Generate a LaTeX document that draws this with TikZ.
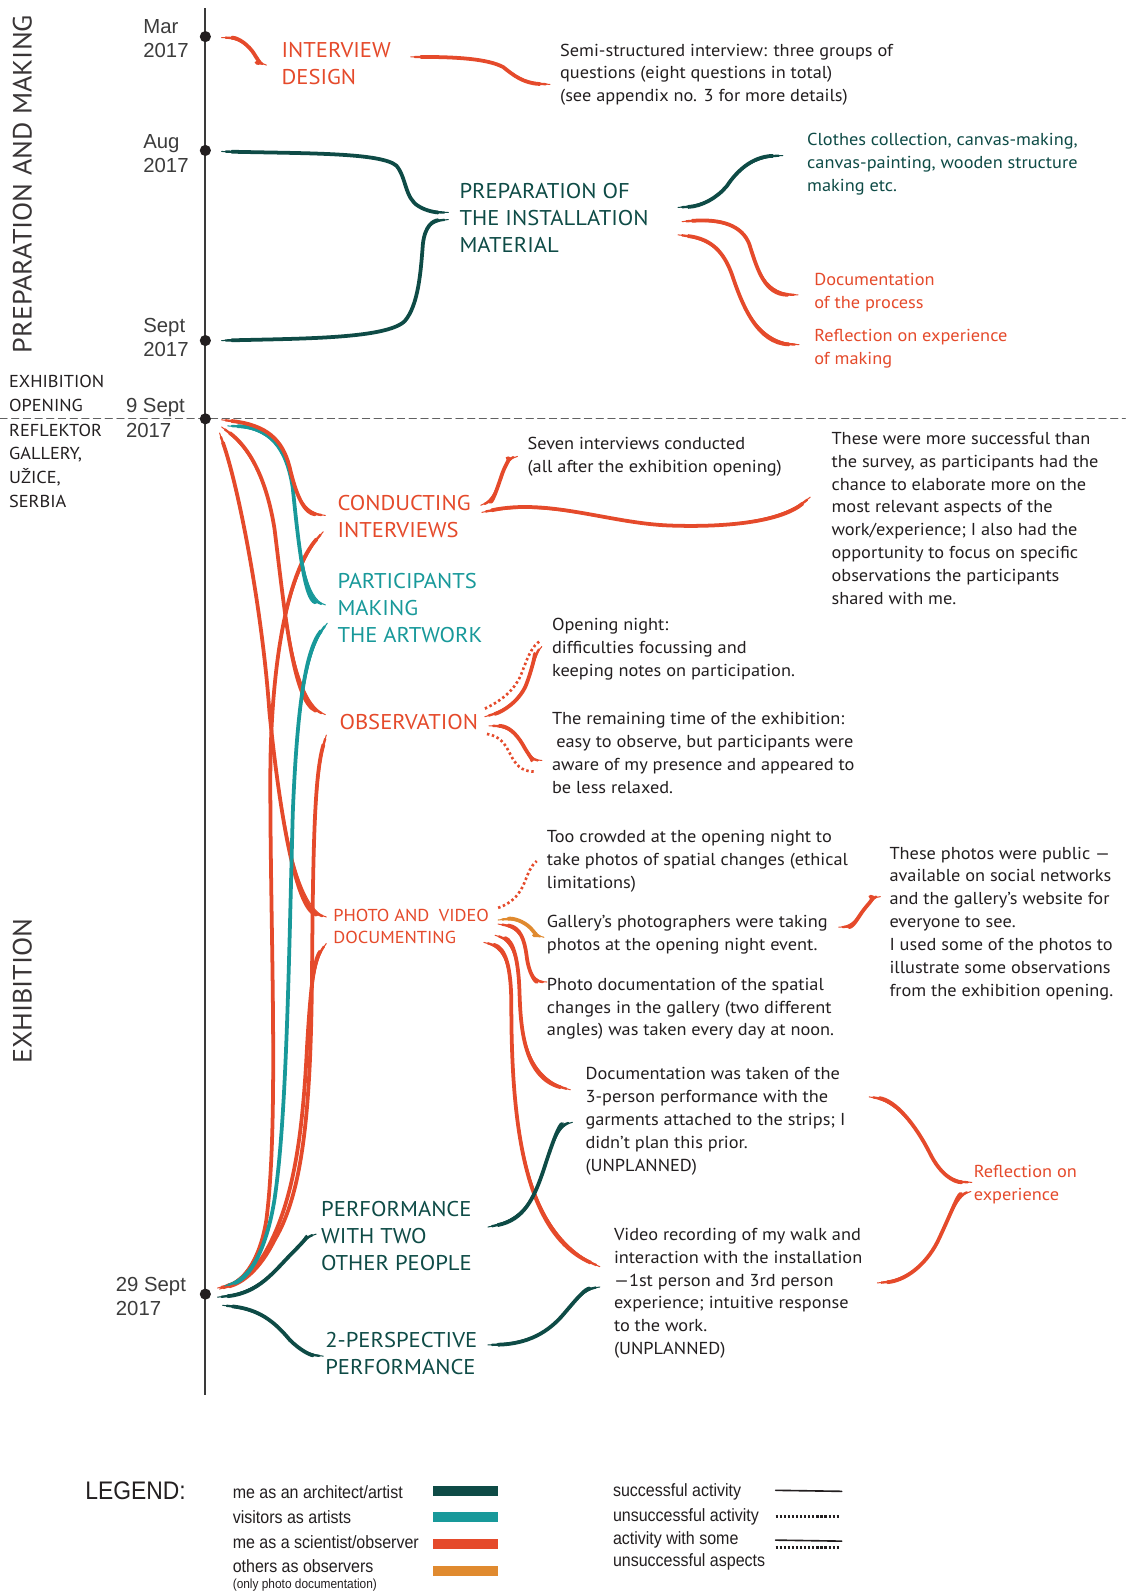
\documentclass[tikz,border=0pt]{standalone}
\usepackage{fontspec}
\setmainfont[FakeStretch=1.06]{PT Sans}
\newfontfamily\datefont{Liberation Sans}
\newfontfamily\legfont[FakeStretch=0.9]{Liberation Sans}

\definecolor{ink}{HTML}{231F20}
\definecolor{axisgray}{HTML}{3A3A3A}
\definecolor{dategray}{HTML}{3C3C3C}
\definecolor{archgreen}{HTML}{0E4B46}
\definecolor{visteal}{HTML}{18999A}
\definecolor{obsred}{HTML}{E54A2B}
\definecolor{othorange}{HTML}{E08A2F}

% tapered brush stroke: thin ends, thick middle
\newcommand\brush[2]{%
  \draw[#1,line width=1pt] #2;
  \draw[#1,line width=2.3pt,shorten <=4pt,shorten >=4pt] #2;
  \draw[#1,line width=3.7pt,shorten <=10pt,shorten >=10pt] #2;}

\tikzset{
  every node/.style={inner sep=0pt,outer sep=0pt},
  tdot/.style={circle,fill=ink,minimum size=11pt},
  axis/.style={draw=axisgray,line width=2pt,line cap=butt},
  divider/.style={draw=axisgray!80,line width=1.2pt,dash pattern=on 7pt off 4.5pt},
  body/.style={anchor=north west,align=left,text=ink,font=\fontsize{17}{22.5}\selectfont},
  stage/.style={anchor=north west,align=left,font=\fontsize{21}{26.5}\selectfont},
  datelbl/.style={anchor=north west,align=left,text=dategray,font=\datefont\fontsize{20}{24}\selectfont},
  place/.style={anchor=north west,align=left,text=ink,font=\fontsize{17}{23.3}\selectfont},
  phase/.style={rotate=90,text=ink!90,font=\fontsize{26}{30}\selectfont},
  dotline/.style={line width=2.6pt,dash pattern=on 2.4pt off 2.6pt,line cap=butt},
  legtext/.style={anchor=west,text=ink,font=\legfont\fontsize{17.5}{21}\selectfont},
  swatch/.style={minimum width=64pt,minimum height=10pt},
  legsolid/.style={draw=ink,line width=1.6pt},
  legdots/.style={draw=ink,line width=2.6pt,dash pattern=on 2.2pt off 1.8pt,line cap=butt},
}

\begin{document}
\begin{tikzpicture}[x=1pt,y=-1pt,line cap=round]
\useasboundingbox (0,0) rectangle (1107,1568);
\fill[white] (0,0) rectangle (1107,1568);

% ---------- timeline ----------
\coordinate (tTop) at (202,8);
\coordinate (tBot) at (202,1372);
\draw[axis] (tTop) -- (tBot);
\coordinate (dashL) at (0,412);
\coordinate (dashR) at (1107,412);
\draw[divider] (dashL) -- (dashR);
\node[tdot] (dMar)  at (202,36) {};
\node[tdot] (dAug)  at (202,148) {};
\node[tdot] (dSep)  at (202,335) {};
\node[tdot] (dOpen) at (202,412) {};
\node[tdot] (dEnd)  at (202,1273) {};

\node[datelbl] (lMar)  at (141,19)   {Mar\\2017};
\node[datelbl] (lAug)  at (141,132)  {Aug\\2017};
\node[datelbl] (lSep)  at (141,313)  {Sept\\2017};
\node[datelbl] (lOpen) at (124,392)  {9 Sept\\2017};
\node[datelbl] (lEnd)  at (114,1256) {29 Sept\\2017};

\node[phase] (phPrep) at (22,181) {PREPARATION AND MAKING};
\node[phase] (phExh)  at (22,975) {EXHIBITION};
\node[place] (opening) at (9,369) {EXHIBITION\\OPENING};
\node[place] (venue)   at (9,417) {REFLEKTOR\\GALLERY,\\UŽICE,\\SERBIA};

% ---------- preparation and making ----------
\node[stage,text=obsred] (intDesign) at (277,42) {INTERVIEW\\DESIGN};
\node[body] (semi) at (551,43) {Semi-structured interview: three groups of\\questions (eight questions in total)\\(see appendix no. 3 for more details)};
\node[stage,text=archgreen] (prep) at (452,180) {PREPARATION OF\\THE INSTALLATION\\MATERIAL};
\node[body,text=archgreen] (clothes) at (794,131) {Clothes collection, canvas-making,\\canvas-painting, wooden structure\\making etc.};
\node[body,text=obsred] (docProc) at (801,269) {Documentation\\of the process};
\node[body,text=obsred] (reflMake) at (801,324) {Reflection on experience\\of making};

\coordinate (idA) at (218,37);  \coordinate (idB) at (262,64);
\coordinate (idC) at (404,56);  \coordinate (idD) at (541,83);
\brush{obsred}{(idA) .. controls (235,37) and (245,45) .. (250,53) .. controls (254,60) and (258,63) .. (idB)}
\brush{obsred}{(idC) .. controls (450,56) and (480,58) .. (495,66) .. controls (505,74) and (515,82) .. (idD)}

\coordinate (prA) at (218,149); \coordinate (prB) at (441,209);
\coordinate (prC) at (218,335); \coordinate (prD) at (441,216);
\brush{archgreen}{(prA) .. controls (300,151) and (375,150) .. (390,163) .. controls (400,175) and (398,195) .. (412,203) .. controls (420,208) and (430,209) .. (prB)}
\brush{archgreen}{(prC) .. controls (300,333) and (380,333) .. (398,316) .. controls (412,300) and (414,265) .. (416,240) .. controls (418,222) and (426,217) .. (prD)}

\coordinate (prE) at (667,204); \coordinate (prF) at (770,153);
\coordinate (prG) at (671,218); \coordinate (prH) at (785,290);
\coordinate (prI) at (667,231); \coordinate (prJ) at (786,339);
\brush{archgreen}{(prE) .. controls (690,203) and (705,195) .. (715,183) .. controls (725,168) and (740,154) .. (prF)}
\brush{obsred}{(prG) .. controls (710,215) and (730,222) .. (737,240) .. controls (745,265) and (752,290) .. (prH)}
\brush{obsred}{(prI) .. controls (700,235) and (712,248) .. (720,270) .. controls (730,300) and (745,338) .. (prJ)}

% ---------- exhibition ----------
\node[stage,text=obsred] (conduct) at (332,487) {CONDUCTING\\INTERVIEWS};
\node[stage,text=visteal] (partic) at (332,564) {PARTICIPANTS\\MAKING\\THE ARTWORK};
\node[stage,text=obsred] (observ) at (334,703) {OBSERVATION};
\node[anchor=north west,align=left,text=obsred,font=\fontsize{17}{22}\selectfont] (photo) at (328,894) {PHOTO AND\hspace{0.55em}VIDEO\\DOCUMENTING};
\node[stage,text=archgreen] (perfTwo) at (316,1182) {PERFORMANCE\\WITH TWO\\OTHER PEOPLE};
\node[stage,text=archgreen] (perfPersp) at (320,1311) {2-PERSPECTIVE\\PERFORMANCE};

\node[body] (seven) at (519,430) {Seven interviews conducted\\(all after the exhibition opening)};
\node[body] (survey) at (818,425) {These were more successful than\\the survey, as participants had the\\chance to elaborate more on the\\most relevant aspects of the\\work/experience; I also had the\\opportunity to focus on specific\\observations the participants\\shared with me.};
\node[body] (openNight) at (543,608) {Opening night:\\difficulties focussing and\\keeping notes on participation.};
\node[body] (remain) at (543,701) {The remaining time of the exhibition:\\\hspace{0.25em}easy to observe, but participants were\\aware of my presence and appeared to\\be less relaxed.};
\node[body] (crowded) at (538,817) {Too crowded at the opening night to\\take photos of spatial changes (ethical\\limitations)};
\node[body] (gallery) at (538,900) {Gallery’s photographers were taking\\photos at the opening night event.};
\node[body] (noon) at (538,962) {Photo documentation of the spatial\\changes in the gallery (two different\\angles) was taken every day at noon.};
\node[body] (threeP) at (576,1050) {Documentation was taken of the\\3-person performance with the\\garments attached to the strips; I\\didn’t plan this prior.\\(UNPLANNED)};
\node[body] (video) at (604,1208) {Video recording of my walk and\\interaction with the installation\\—1st person and 3rd person\\experience; intuitive response\\to the work.\\(UNPLANNED)};
\node[body] (public) at (875,833) {These photos were public —\\available on social networks\\and the gallery’s website for\\everyone to see.\\I used some of the photos to\\illustrate some observations\\from the exhibition opening.};
\node[body,text=obsred] (reflExp) at (958,1146) {Reflection on\\experience};

% bundle from the opening towards the end of the exhibition
\coordinate (oA) at (218,413); \coordinate (cTop) at (320,507);
\coordinate (oB) at (224,419); \coordinate (pTop) at (320,595);
\coordinate (oC) at (218,420); \coordinate (obTop) at (320,703);
\coordinate (oD) at (216,426); \coordinate (phTop) at (321,902);
\coordinate (cBot) at (318,523); \coordinate (eA) at (218,1266);
\coordinate (pBot) at (322,613); \coordinate (eB) at (221,1265);
\coordinate (obBot) at (321,723); \coordinate (eC) at (216,1268);
\coordinate (phBot) at (321,928); \coordinate (eD) at (214,1267);

\brush{obsred}{(oD) .. controls (235,480) and (258,600) .. (265,700) .. controls (274,790) and (290,895) .. (phTop)}
\brush{obsred}{(oC) .. controls (245,440) and (262,470) .. (270,520) .. controls (280,600) and (288,690) .. (obTop)}
\brush{obsred}{(cBot) .. controls (285,560) and (268,640) .. (266,750) .. controls (265,900) and (275,1100) .. (262,1200) .. controls (255,1245) and (235,1262) .. (eA)}
\brush{obsred}{(obBot) .. controls (310,760) and (308,820) .. (307,950) .. controls (306,1080) and (300,1170) .. (270,1220) .. controls (255,1250) and (238,1262) .. (eC)}
\brush{obsred}{(phBot) .. controls (308,945) and (305,980) .. (302,1030) .. controls (298,1110) and (290,1180) .. (262,1230) .. controls (250,1252) and (235,1262) .. (eD)}
\brush{visteal}{(pBot) .. controls (300,640) and (292,700) .. (288,800) .. controls (284,950) and (282,1100) .. (270,1180) .. controls (262,1230) and (245,1258) .. (eB)}
\brush{visteal}{(oB) .. controls (265,420) and (282,440) .. (288,480) .. controls (294,540) and (300,590) .. (pTop)}
\brush{obsred}{(oA) .. controls (262,418) and (278,432) .. (285,460) .. controls (292,490) and (300,505) .. (cTop)}

% conducting interviews
\coordinate (ciA) at (473,497); \coordinate (ciB) at (509,449);
\coordinate (ciC) at (474,504); \coordinate (ciD) at (797,489);
\brush{obsred}{(ciA) .. controls (485,493) and (490,478) .. (494,466) .. controls (498,455) and (503,450) .. (ciB)}
\brush{obsred}{(ciC) .. controls (540,490) and (600,515) .. (660,517) .. controls (720,519) and (770,512) .. (ciD)}

% observation: partly successful in both periods
\coordinate (obA) at (477,705); \coordinate (obB) at (533,636);
\coordinate (obC) at (477,697); \coordinate (obD) at (532,630);
\coordinate (obE) at (481,714); \coordinate (obF) at (533,748);
\coordinate (obG) at (479,722); \coordinate (obH) at (525,759);
\brush{obsred}{(obA) .. controls (495,700) and (510,690) .. (517,675) .. controls (523,660) and (527,642) .. (obB)}
\draw[obsred,dotline] (obC) .. controls (492,690) and (505,680) .. (512,665) .. controls (518,650) and (522,636) .. (obD);
\brush{obsred}{(obE) .. controls (500,714) and (508,722) .. (514,732) .. controls (520,743) and (525,748) .. (obF)}
\draw[obsred,dotline] (obG) .. controls (492,724) and (497,732) .. (502,742) .. controls (507,752) and (513,759) .. (obH);

% photo and video documenting
\coordinate (pvA) at (490,893); \coordinate (pvB) at (528,847);
\coordinate (pvC) at (490,905); \coordinate (pvD) at (535,922);
\coordinate (pvE) at (490,909); \coordinate (pvF) at (538,966);
\coordinate (pvG) at (487,920); \coordinate (pvH) at (561,1072);
\coordinate (pvI) at (476,927); \coordinate (pvJ) at (590,1246);
\draw[obsred,dotline] (pvA) .. controls (505,888) and (512,878) .. (516,868) .. controls (520,858) and (522,852) .. (pvB);
\brush{othorange}{(pvC) .. controls (505,903) and (515,906) .. (522,913) .. controls (526,918) and (530,921) .. (pvD)}
\brush{obsred}{(pvE) .. controls (512,912) and (516,925) .. (518,940) .. controls (520,958) and (527,966) .. (pvF)}
\brush{obsred}{(pvG) .. controls (505,925) and (510,945) .. (511,975) .. controls (512,1010) and (515,1060) .. (pvH)}
\brush{obsred}{(pvI) .. controls (497,932) and (503,950) .. (503,990) .. controls (503,1120) and (520,1215) .. (pvJ)}

\coordinate (gpA) at (825,912); \coordinate (gpB) at (866,882);
\brush{obsred}{(gpA) .. controls (840,912) and (845,900) .. (852,892) .. controls (857,886) and (861,882) .. (gpB)}

% performances
\coordinate (pfA) at (214,1276); \coordinate (pfB) at (311,1214);
\coordinate (pfC) at (219,1284); \coordinate (pfD) at (318,1334);
\coordinate (pfE) at (480,1207); \coordinate (pfF) at (563,1104);
\coordinate (pfG) at (480,1323); \coordinate (pfH) at (590,1266);
\brush{archgreen}{(pfA) .. controls (255,1272) and (270,1250) .. (288,1232) .. controls (298,1222) and (303,1216) .. (pfB)}
\brush{archgreen}{(pfC) .. controls (255,1288) and (270,1300) .. (285,1318) .. controls (295,1328) and (305,1333) .. (pfD)}
\brush{archgreen}{(pfE) .. controls (515,1200) and (525,1180) .. (535,1150) .. controls (543,1125) and (550,1106) .. (pfF)}
\brush{archgreen}{(pfG) .. controls (520,1322) and (540,1310) .. (555,1292) .. controls (567,1278) and (575,1268) .. (pfH)}

% reflection on experience
\coordinate (reA) at (855,1079); \coordinate (reB) at (956,1163);
\coordinate (reC) at (863,1262); \coordinate (reD) at (955,1172);
\brush{obsred}{(reA) .. controls (880,1082) and (900,1105) .. (915,1135) .. controls (925,1155) and (938,1163) .. (reB)}
\brush{obsred}{(reC) .. controls (890,1260) and (910,1245) .. (922,1222) .. controls (935,1195) and (942,1175) .. (reD)}

% ---------- legend ----------
\node[anchor=west,text=ink,font=\legfont\fontsize{25}{28}\selectfont] (legTitle) at (84,1466) {LEGEND:};
\node[legtext] (lgArch) at (229,1468) {me as an architect/artist};
\node[legtext] (lgVis)  at (229,1492) {visitors as artists};
\node[legtext] (lgSci)  at (229,1517) {me as a scientist/observer};
\node[legtext] (lgOth)  at (229,1541) {others as observers};
\node[anchor=west,text=ink,font=\legfont\fontsize{13}{15}\selectfont] (lgOthNote) at (229,1559) {(only photo documentation)};
\node[swatch,fill=archgreen] (swArch) at (458,1467) {};
\node[swatch,fill=visteal]   (swVis)  at (458,1492) {};
\node[swatch,fill=obsred]    (swSci)  at (458,1519) {};
\node[swatch,fill=othorange] (swOth)  at (458,1545) {};

\node[legtext] (lgOk)   at (603,1468) {successful activity};
\node[legtext] (lgFail) at (603,1492) {unsuccessful activity};
\node[anchor=north west,align=left,text=ink,font=\legfont\fontsize{17.5}{21}\selectfont] (lgMix) at (603,1507) {activity with some\\unsuccessful aspects};
\coordinate (smA) at (763,1466); \coordinate (smB) at (828,1467);
\coordinate (sfA) at (763,1492); \coordinate (sfB) at (826,1492);
\coordinate (smC) at (763,1515); \coordinate (smD) at (828,1516);
\coordinate (sfC) at (763,1522); \coordinate (sfD) at (826,1522);
\draw[legsolid] (smA) -- (smB);
\draw[legdots] (sfA) -- (sfB);
\draw[legsolid] (smC) -- (smD);
\draw[legdots] (sfC) -- (sfD);
\end{tikzpicture}
\end{document}
